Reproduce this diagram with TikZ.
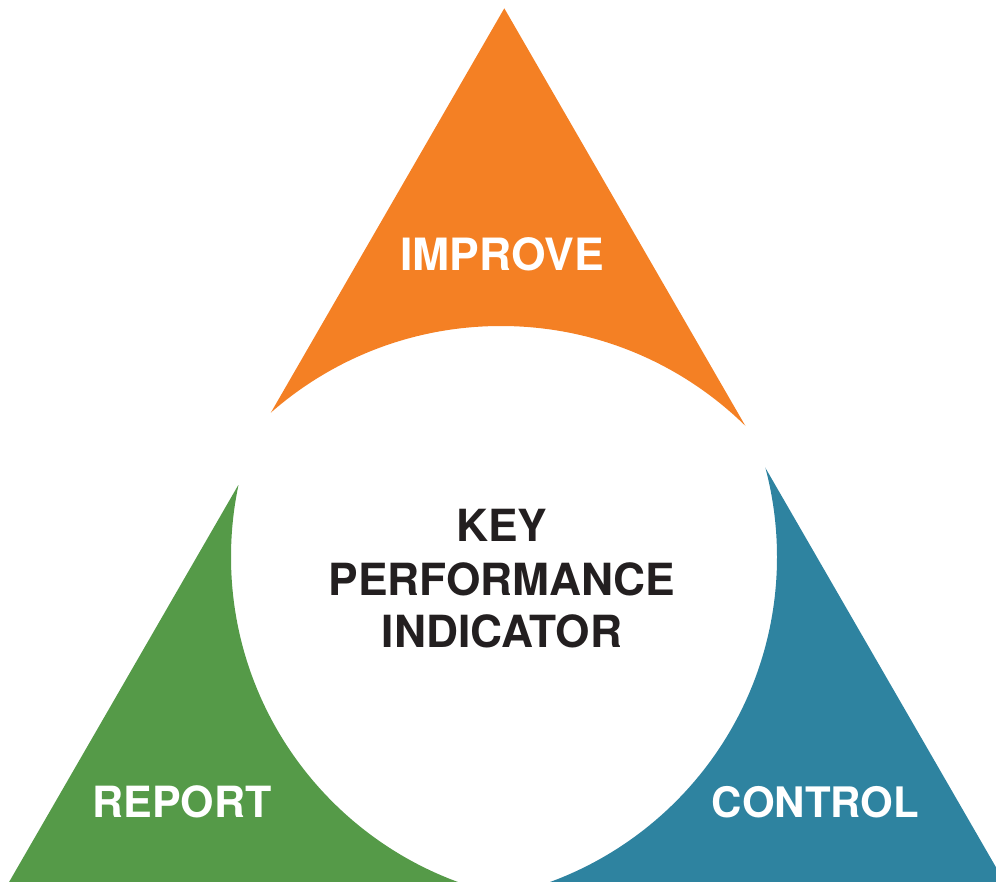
\documentclass[tikz,border=0pt]{standalone}
\usepackage{fontspec}
\setmainfont{TeX Gyre Heros}
\definecolor{kpiorange}{RGB}{244,128,36}
\definecolor{kpigreen}{RGB}{85,154,72}
\definecolor{kpiblue}{RGB}{46,131,160}
\definecolor{kpidark}{RGB}{35,31,32}
\begin{document}
\begin{tikzpicture}[x=1pt,y=-1pt,
  lbl/.style={text=white,font=\fontsize{43}{52}\selectfont\bfseries,anchor=base,inner sep=0pt},
  ctr/.style={text=kpidark,font=\fontsize{44.3}{52}\selectfont\bfseries,anchor=base,inner sep=0pt}]
\useasboundingbox (0,0) rectangle (996,881);
\clip (0,0) rectangle (996,881);
% orange triangle
\begin{scope}
\clip (504.3,8.3) -- (249.3,450) -- (759.3,450) -- cycle;
\fill[kpiorange,even odd rule] (-200,-200) rectangle (1200,1200) (501,675) circle (349pt);
\end{scope}
% green triangle
\begin{scope}
\clip (238.3,485) -- (-1.3,900) -- (477.9,900) -- cycle;
\fill[kpigreen,even odd rule] (-200,-200) rectangle (1200,1200) (577,557) circle (346pt);
\end{scope}
% blue triangle
\begin{scope}
\clip (764.3,466) -- (513.7,900) -- (1014.9,900) -- cycle;
\fill[kpiblue,even odd rule] (-200,-200) rectangle (1200,1200) (431,557) circle (346pt);
\end{scope}
\node[lbl,font=\fontsize{44.5}{52}\selectfont\bfseries] (improve) at (502,270) {IMPROVE};
\node[lbl] (report) at (182,817) {REPORT};
\node[lbl,font=\fontsize{42}{52}\selectfont\bfseries] (control) at (815.5,817) {CONTROL};
\node[ctr] (key) at (502,541) {KEY};
\node[ctr] (perf) at (502,595) {PERFORMANCE};
\node[ctr] (ind) at (502,647) {INDICATOR};
\end{tikzpicture}
\end{document}
